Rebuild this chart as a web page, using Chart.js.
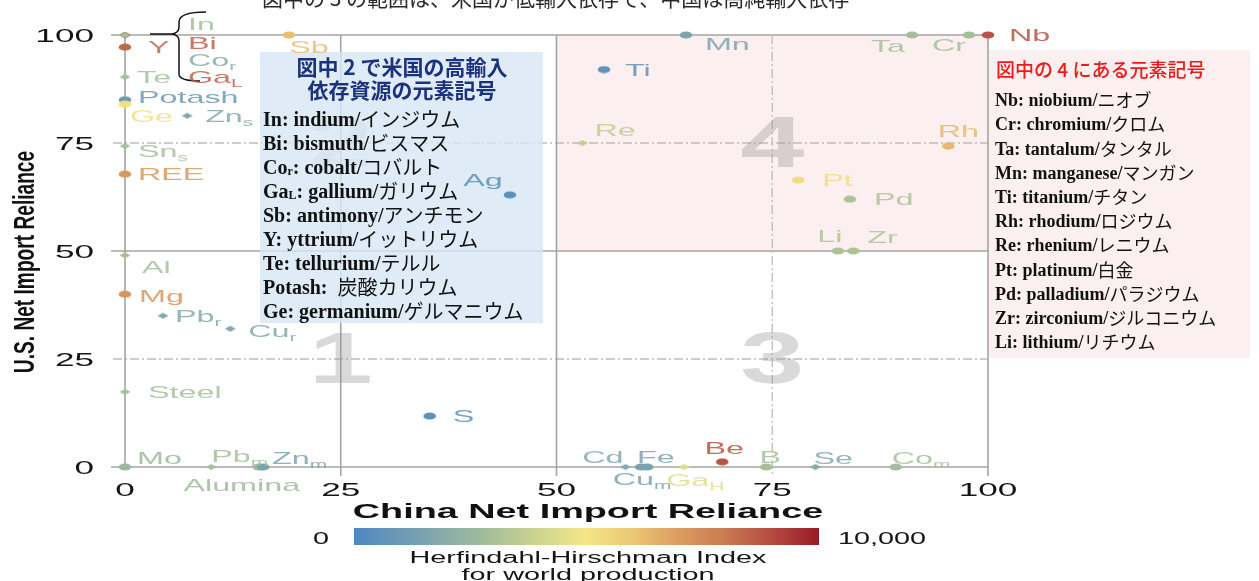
<!DOCTYPE html>
<html><head><meta charset="utf-8">
<script src="https://cdn.jsdelivr.net/npm/chart.js@4.4.0/dist/chart.umd.min.js"></script>
<style>html,body{margin:0;padding:0;background:#fff;overflow:hidden}canvas{display:block}</style>
</head><body>
<canvas id="c" width="1259" height="581"></canvas>
<script>
// ---------------- DATA ----------------
const elements = ['Bi','Co_{r}','Ga_{L}','In','Y','Te','Potash','Ge','Zn_{s}','Sn_{s}','REE','Al','Mg','Pb_{r}','Cu_{r}','Steel','S','Mo','Pb_{m}','Alumina','Zn_{m}','Sb','Ag','Ti','Mn','Ta','Cr','Nb','Re','Rh','Pt','Pd','Li','Zr','Cd','Fe','Cu_{m}','Ga_{H}','Be','B','Se','Co_{m}'];
const chinaNIR = [0,0,0,0,0,0,0,0,7.2,0,0,0,0,4.4,12.2,0,35.3,0,10,15.5,16,19,44.6,55.5,65,91.2,97.8,100,53,95.4,78,84,82.6,84.4,58,59.8,60.5,64.8,69.2,74.3,80,89.3];
const usNIR    = [100,100,100,100,97.2,90.3,85,84,81.3,74.3,67.8,49,40,35,32,17.4,11.8,0,0,0,0,100,63,92,100,100,100,100,75,74.3,66.4,62,50,50,0,0,0,0,1.2,0,0,0];
const hhi      = [8500,1900,8500,2900,8400,2900,1000,5200,1800,2900,7100,2900,7200,1800,1800,2900,500,2600,2900,2700,1500,6200,500,600,1600,2900,2800,8800,3600,6300,5300,3100,3100,3100,1800,1500,1500,4400,8800,2900,1800,2900];
const xTicks = [0,25,50,75,100];
const yTicks = [0,25,50,75,100];
const hhiMin = 0, hhiMax = 10000;
const xTitle = 'China Net Import Reliance';
const yTitle = 'U.S. Net Import Reliance';
const hhiTitle = ['Herfindahl-Hirschman Index','for world production'];
const hhiTickLabels = ['0','10,000'];
const quadrantNames = ['1','2','3','4'];
const topNote = '図中の 3 の範囲は、米国が低輸入依存で、中国は高純輸入依存';
const leftBoxTitle = ['図中 2 で米国の高輸入','依存資源の元素記号'];
const leftBoxLines = ['In: indium/インジウム','Bi: bismuth/ビスマス','Co_{r}: cobalt/コバルト','Ga_{L}: gallium/ガリウム','Sb: antimony/アンチモン','Y: yttrium/イットリウム','Te: tellurium/テルル','Potash:  炭酸カリウム','Ge: germanium/ゲルマニウム'];
const rightBoxTitle = '図中の 4 にある元素記号';
const rightBoxLines = ['Nb: niobium/ニオブ','Cr: chromium/クロム','Ta: tantalum/タンタル','Mn: manganese/マンガン','Ti: titanium/チタン','Rh: rhodium/ロジウム','Re: rhenium/レニウム','Pt: platinum/白金','Pd: palladium/パラジウム','Zr: zirconium/ジルコニウム','Li: lithium/リチウム'];

// ---------------- STYLE ----------------
const diamondSet = new Set(['In','Bi','Co_{r}','Ga_{L}','Te','Zn_{s}','Sn_{s}','Al','Pb_{r}','Cu_{r}','Steel','Pb_{m}','Re','Cd','Ga_{H}','Se']);
const labelPos = {
 'In':[63,-11],'Bi':[63,8],'Co_{r}':[63,25],'Ga_{L}':[63,42],
 'Y':[23,0],'Te':[12,0],'Potash':[13,-3],'Ge':[5,12],'Zn_{s}':[18,0],'Sn_{s}':[13,5],'REE':[13,0],
 'Al':[17,12],'Mg':[14,2],'Pb_{r}':[12,0],'Cu_{r}':[18,2],'Steel':[23,0],'S':[23,0],
 'Mo':[12,-9],'Pb_{m}':[0,-11],'Zn_{m}':[9,-9],'Alumina':[-17,18,'center'],
 'Sb':[20,12,'center'],'Ag':[-27,-15,'center'],'Ti':[21,0],'Mn':[19,9],
 'Ta':[-7,11,'right'],'Cr':[-3,10,'right'],'Nb':[21,0],'Re':[12,-13],'Rh':[10,-15,'center'],
 'Pt':[24,0],'Pd':[24,0],'Li':[-8,-15,'center'],'Zr':[14,-14],
 'Cd':[-2,-10,'right'],'Fe':[-4,-10],'Cu_{m}':[-5,12,'center'],'Ga_{H}':[11,13,'center'],
 'Be':[2,-14,'center'],'B':[4,-10,'center'],'Se':[-2,-9],'Co_{m}':[-4,-9]
};
const SANS = '"Liberation Sans", Arial, sans-serif';
const SERIF = '"Liberation Serif", "Times New Roman", serif';
const CJK = '"Noto Sans CJK JP", sans-serif';
const hhiStops = [[0,[79,134,191]],[0.15,[122,163,176]],[0.3,[169,193,152]],[0.45,[226,223,140]],[0.5,[245,230,134]],[0.6,[236,198,117]],[0.7,[217,156,94]],[0.8,[201,122,82]],[0.9,[180,74,63]],[1,[154,26,38]]];

function hhiRGB(v){
  const t = Math.max(0,Math.min(1,(v-hhiMin)/(hhiMax-hhiMin)));
  for(let i=1;i<hhiStops.length;i++){
    const [t1,c1]=hhiStops[i-1],[t2,c2]=hhiStops[i];
    if(t<=t2){const f=(t-t1)/(t2-t1);return c1.map((c,k)=>Math.round(c+(c2[k]-c)*f));}
  }
  return hhiStops[hhiStops.length-1][1];
}
const markerCache = {};
function marker(i){
  const name = elements[i];
  const rgb = hhiRGB(hhi[i]);
  const dia = diamondSet.has(name);
  const key = (dia?'d':'c')+rgb.join(',');
  if(markerCache[key]) return markerCache[key];
  const cv = document.createElement('canvas');
  if(dia){cv.width=12;cv.height=7;}else{cv.width=14;cv.height=8;}
  const g = cv.getContext('2d');
  g.fillStyle = `rgb(${rgb.join(',')})`;
  g.beginPath();
  if(dia){g.moveTo(0.5,3.5);g.lineTo(6,0.5);g.lineTo(11.5,3.5);g.lineTo(6,6.5);g.closePath();}
  else{g.ellipse(7,4,6.3,3.6,0,0,Math.PI*2);}
  g.fill();
  markerCache[key]=cv; return cv;
}
function parseRich(s){
  const out=[];const re=/_\{([^}]*)\}/g;let last=0,m;
  while((m=re.exec(s))){if(m.index>last)out.push({t:s.slice(last,m.index),sub:false});out.push({t:m[1],sub:true});last=re.lastIndex;}
  if(last<s.length)out.push({t:s.slice(last),sub:false});
  return out;
}
function drawRuns(ctx, runs, x, y, align, sx){
  ctx.save();ctx.translate(x,y);ctx.scale(sx||1,1);
  ctx.textBaseline='alphabetic';ctx.textAlign='left';
  let w=0;runs.forEach(r=>{ctx.font=r.font;r.w=ctx.measureText(r.t).width;w+=r.w;});
  let cx = align==='center'?-w/2:align==='right'?-w:0;
  runs.forEach(r=>{ctx.font=r.font;ctx.fillStyle=r.color;ctx.fillText(r.t,cx,r.dy);cx+=r.w;});
  ctx.restore();
}
function richLabel(ctx, s, x, y, size, color, align, sx, weight, family){
  const base = size*0.36;
  const runs = parseRich(s).map(p=>p.sub
    ? {t:p.t,font:`${weight||''} ${Math.round(size*0.66)}px ${family||SANS}`,color,dy:base+size*0.22}
    : {t:p.t,font:`${weight||''} ${size}px ${family||SANS}`,color,dy:base});
  drawRuns(ctx, runs, x, y, align, sx);
}
function boxLine(ctx, s, x, y, size, color){
  let idx = s.search(/[\u2E80-\u9FFF\u30A0-\u30FF]/); if(idx<0) idx=s.length;
  const lat = s.slice(0,idx), jp = s.slice(idx);
  const base = size*0.34;
  const runs = parseRich(lat).map(p=>p.sub
    ? {t:p.t,font:`bold ${Math.round(size*0.62)}px ${SERIF}`,color,dy:base+size*0.08}
    : {t:p.t,font:`bold ${size}px ${SERIF}`,color,dy:base});
  if(jp) runs.push({t:jp,font:`${size}px ${CJK}`,color,dy:base+size*0.06});
  drawRuns(ctx, runs, x, y, 'left', 1);
}

// ---------------- PLUGINS ----------------
const backdrop = {
  id:'backdrop',
  beforeDraw(chart){
    const ctx=chart.ctx, xs=chart.scales.x, ys=chart.scales.y;
    const X=v=>xs.getPixelForValue(v), Y=v=>ys.getPixelForValue(v);
    ctx.save();
    ctx.fillStyle='#fff';ctx.fillRect(0,0,chart.width,chart.height);
    ctx.font=`21px ${CJK}`;ctx.fillStyle='#2a2a2a';ctx.textBaseline='ideographic';ctx.textAlign='left';
    ctx.fillText(topNote,262,9);
    ctx.fillStyle='#fcefef';
    ctx.fillRect(X(50),Y(100),X(100)-X(50),Y(50)-Y(100));
    ctx.fillRect(X(100)+1,50,1250-X(100)-1,308);
    ctx.lineCap='butt';
    yTicks.forEach(v=>{
      const y=Y(v);ctx.beginPath();
      if(v%50===0){ctx.setLineDash([]);ctx.strokeStyle='#a4a4a4';ctx.lineWidth=1.6;ctx.moveTo(X(0)-14,y);}
      else{ctx.setLineDash([9,3,2,3]);ctx.strokeStyle='#bdbdbd';ctx.lineWidth=1.3;ctx.moveTo(X(0)-12,y);}
      ctx.lineTo(X(100),y);ctx.stroke();
    });
    xTicks.forEach(v=>{
      const x=X(v);ctx.beginPath();
      if(v===75){ctx.setLineDash([9,3,2,3]);ctx.strokeStyle='#bdbdbd';ctx.lineWidth=1.3;}
      else{ctx.setLineDash([]);ctx.strokeStyle='#a4a4a4';ctx.lineWidth=1.6;}
      ctx.moveTo(x,Y(100));ctx.lineTo(x,Y(0)+(v===0?0:9));ctx.stroke();
    });
    ctx.setLineDash([]);
    const qpos=[[25,25],[25,75],[75,25],[75,75]];
    quadrantNames.forEach((q,i)=>{
      ctx.save();ctx.globalAlpha=0.36;
      richLabel(ctx,q,X(qpos[i][0]),Y(qpos[i][1])-2,72,'#969696','center',1.6,'bold');
      ctx.restore();
    });
    ctx.fillStyle='rgba(215,231,246,0.8)';
    ctx.fillRect(260,52,283,271);
    xTicks.forEach(v=>richLabel(ctx,String(v),X(v),489,19,'#151515','center',1.85));
    yTicks.forEach(v=>richLabel(ctx,String(v),94,Y(v),19,'#151515','right',1.85));
    richLabel(ctx,xTitle,588,510,21,'#111','center',1.8,'bold');
    ctx.save();ctx.translate(34,262);ctx.rotate(-Math.PI/2);ctx.scale(0.66,1);
    ctx.font=`bold 29px ${SANS}`;ctx.fillStyle='#111';ctx.textAlign='center';ctx.textBaseline='alphabetic';
    ctx.fillText(yTitle,0,0);ctx.restore();
    const gx0=354,gx1=819;
    const grad=ctx.createLinearGradient(gx0,0,gx1,0);
    hhiStops.forEach(([t,c])=>grad.addColorStop(t,`rgb(${c.join(',')})`));
    ctx.fillStyle=grad;ctx.fillRect(gx0,528,gx1-gx0,17);
    richLabel(ctx,hhiTickLabels[0],321,538,16,'#151515','center',1.8);
    richLabel(ctx,hhiTickLabels[1],838,538,16,'#151515','left',1.8);
    richLabel(ctx,hhiTitle[0],588,557,16,'#151515','center',1.8);
    richLabel(ctx,hhiTitle[1],588,574,16,'#151515','center',1.8);
    ctx.strokeStyle='#111';ctx.lineWidth=1.5;ctx.beginPath();
    ctx.moveTo(206,12);ctx.quadraticCurveTo(179,12,179,22);ctx.lineTo(179,27);ctx.quadraticCurveTo(179,33,172,34);ctx.lineTo(150,34);
    ctx.moveTo(172,34);ctx.quadraticCurveTo(179,35,179,41);ctx.lineTo(179,74);ctx.quadraticCurveTo(179,81,200,81);
    ctx.stroke();
    ctx.restore();
  }
};
const labelsPlugin = {
  id:'labelsPlugin',
  afterDatasetsDraw(chart){
    const ctx=chart.ctx, meta=chart.getDatasetMeta(0);
    ctx.save();
    meta.data.forEach((pt,i)=>{
      const name=elements[i];const o=labelPos[name]||[12,0];
      const rgb=hhiRGB(hhi[i]);
      const col=`rgba(${rgb.join(',')},0.85)`;
      richLabel(ctx,name,pt.x+o[0],pt.y+o[1],17,col,o[2]||'left',1.9);
    });
    leftBoxTitle.forEach((t,k)=>{
      ctx.font=`bold 21px ${CJK}`;ctx.fillStyle='#1c327c';ctx.textAlign='center';ctx.textBaseline='middle';
      ctx.fillText(t,402,67+k*23);
    });
    leftBoxLines.forEach((t,k)=>boxLine(ctx,t,263,119+k*24,20,'#111'));
    ctx.font=`500 19px ${CJK}`;ctx.fillStyle='#f01818';ctx.textAlign='left';ctx.textBaseline='middle';
    ctx.fillText(rightBoxTitle,996,70);
    rightBoxLines.forEach((t,k)=>boxLine(ctx,t,995,100+k*24.2,18,'#111'));
    ctx.restore();
  }
};

new Chart(document.getElementById('c').getContext('2d'),{
  type:'scatter',
  data:{datasets:[{
    data: chinaNIR.map((x,i)=>({x, y:usNIR[i]})),
    pointStyle: c=>marker(c.dataIndex),
    pointRadius:5, clip:false
  }]},
  options:{
    responsive:false, animation:false, events:[], devicePixelRatio:1,
    layout:{padding:{left:125,right:271,top:35,bottom:114}},
    scales:{
      x:{type:'linear',min:0,max:100,display:false},
      y:{type:'linear',min:0,max:100,display:false}
    },
    plugins:{legend:{display:false},tooltip:{enabled:false}}
  },
  plugins:[backdrop,labelsPlugin]
});
</script>
</body></html>
